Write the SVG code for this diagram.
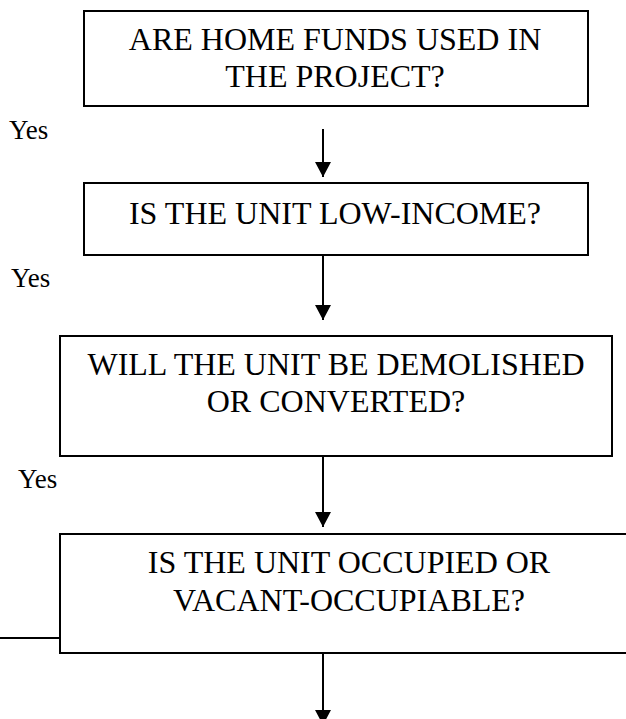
<svg xmlns="http://www.w3.org/2000/svg" width="626" height="719" viewBox="0 0 626 719">
<style>
.box{fill:#fff;stroke:#000;stroke-width:2}
.t{font-family:'Liberation Serif','Times New Roman',serif;font-size:32px;fill:#000;text-anchor:middle}
.y{font-family:'Liberation Serif','Times New Roman',serif;font-size:27px;fill:#000}
.c{stroke:#000;stroke-width:2;fill:none}
</style>
<defs>
<marker id="ah" markerWidth="15" markerHeight="16" refX="15" refY="8" orient="auto" markerUnits="userSpaceOnUse">
<path d="M0,0 L15,8 L0,16 Z" fill="#000"/>
</marker>
</defs>
<rect width="626" height="719" fill="#fff"/>
<g id="connectors">
<line class="c" x1="323" y1="129" x2="323" y2="177" marker-end="url(#ah)"/>
<line class="c" x1="323" y1="248" x2="323" y2="320" marker-end="url(#ah)"/>
<line class="c" x1="323" y1="456" x2="323" y2="527" marker-end="url(#ah)"/>
<line class="c" x1="323" y1="654" x2="323" y2="725" marker-end="url(#ah)"/>
<line class="c" x1="0" y1="638" x2="60" y2="638"/>
</g>
<g id="node1">
<rect class="box" x="84" y="11" width="504" height="95"/>
<text class="t" x="335" y="50">ARE HOME FUNDS USED IN</text>
<text class="t" x="335" y="87">THE PROJECT?</text>
</g>
<g id="node2">
<rect class="box" x="84" y="183" width="504" height="72"/>
<text class="t" x="335" y="224">IS THE UNIT LOW-INCOME?</text>
</g>
<g id="node3">
<rect class="box" x="60" y="336" width="552" height="120"/>
<text class="t" x="336" y="375">WILL THE UNIT BE DEMOLISHED</text>
<text class="t" x="336" y="412">OR CONVERTED?</text>
</g>
<g id="node4">
<rect class="box" x="60" y="534" width="580" height="119"/>
<text class="t" x="349" y="573">IS THE UNIT OCCUPIED OR</text>
<text class="t" x="349" y="611">VACANT-OCCUPIABLE?</text>
</g>
<g id="labels">
<text class="y" x="9" y="139">Yes</text>
<text class="y" x="11" y="287">Yes</text>
<text class="y" x="18" y="488">Yes</text>
</g>
</svg>
